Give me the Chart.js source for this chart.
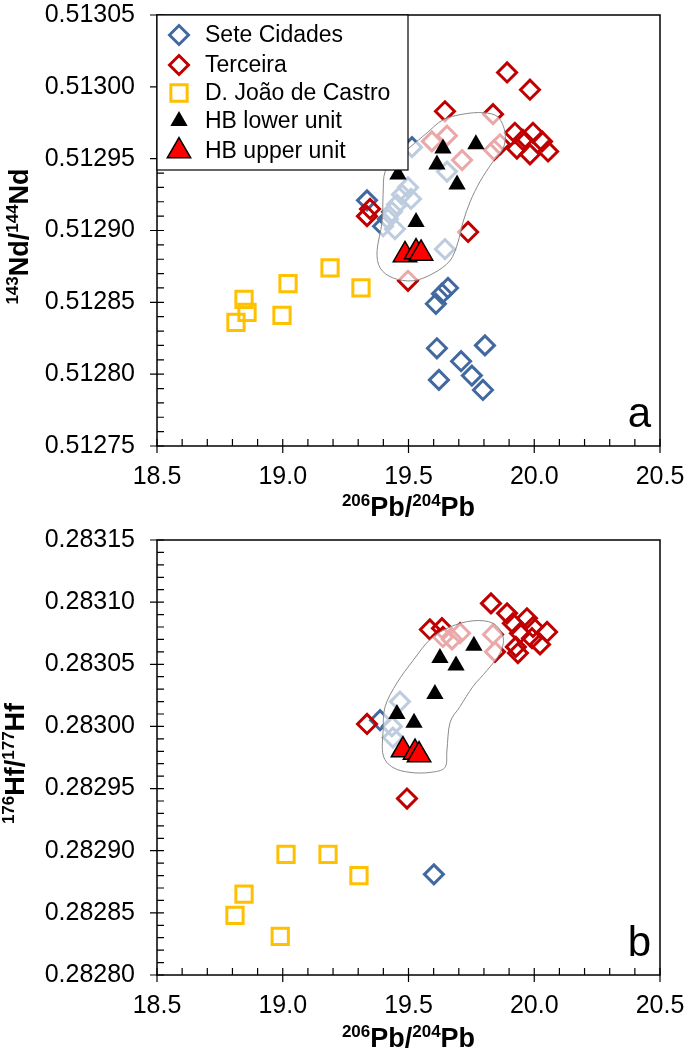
<!DOCTYPE html>
<html>
<head>
<meta charset="utf-8">
<script src="https://cdn.jsdelivr.net/npm/chart.js@4.4.1/dist/chart.umd.min.js"></script>
<style>
body { margin: 0; background: #fff; }
#box1 { position: absolute; left: 0; top: 0; width: 685px; height: 535px; }
#box2 { position: absolute; left: 0; top: 520px; width: 685px; height: 531px; }
</style>
</head>
<body>
<div id="box1"><canvas id="chartNd" width="685" height="535"></canvas></div>
<div id="box2"><canvas id="chartHf" width="685" height="531"></canvas></div>
<script>
// tick labels
const pbTicks = [18.5, 19.0, 19.5, 20.0, 20.5]
const ndTicks = [0.51275, 0.51280, 0.51285, 0.51290, 0.51295, 0.51300, 0.51305]
const hfTicks = [0.28280, 0.28285, 0.28290, 0.28295, 0.28300, 0.28305, 0.28310, 0.28315]

// panel a : 206Pb/204Pb vs 143Nd/144Nd
const seteNd = [[19.514,0.512958],[19.335,0.512921],[19.399,0.512903],[19.657,0.512860],[19.633,0.512856],[19.609,0.512849],
  [19.613,0.512818],[19.804,0.512820],[19.709,0.512809],[19.752,0.512799],[19.621,0.512796],[19.796,0.512789],
  [19.653,0.512941],[19.498,0.512930],[19.474,0.512925],[19.510,0.512922],[19.454,0.512918],[19.434,0.512913],
  [19.418,0.512908],[19.446,0.512901],[19.645,0.512887]]
const terceiraNd = [[19.892,0.513010],[19.983,0.512998],[19.645,0.512983],[19.836,0.512981],[19.923,0.512968],[19.995,0.512968],
  [19.955,0.512963],[20.031,0.512962],[19.931,0.512957],[19.983,0.512953],[20.055,0.512955],[19.347,0.512915],
  [19.335,0.512910],[19.737,0.512899],[19.498,0.512865],[19.593,0.512962],[19.653,0.512966],[19.713,0.512949],
  [19.840,0.512956],[19.864,0.512960]]
const djcNd = [[18.846,0.512852],[18.858,0.512843],[18.814,0.512836],[19.021,0.512863],[18.997,0.512841],[19.188,0.512874],[19.311,0.512860]]
const hbLowerNd = [[19.637,0.512957],[19.768,0.512960],[19.613,0.512946],[19.458,0.512939],[19.693,0.512932],[19.530,0.512906]]
const hbUpperNd = [[19.486,0.512883],[19.530,0.512885],[19.550,0.512884]]
const fieldNd = [[19.407,0.512941],[19.454,0.512950],[19.506,0.512958],[19.574,0.512968],[19.637,0.512977],[19.717,0.512981],
  [19.796,0.512982],[19.856,0.512979],[19.884,0.512968],[19.876,0.512957],[19.836,0.512948],[19.784,0.512934],
  [19.745,0.512920],[19.717,0.512906],[19.697,0.512892],[19.665,0.512879],[19.597,0.512870],[19.518,0.512865],
  [19.438,0.512867],[19.387,0.512874],[19.375,0.512886],[19.395,0.512906],[19.399,0.512925]]

// panel b : 206Pb/204Pb vs 176Hf/177Hf
const seteHf = [[19.601,0.282881],[19.387,0.283005],[19.466,0.283020],[19.434,0.283000],[19.438,0.282991]]
const terceiraHf = [[19.335,0.283002],[19.494,0.282942],[19.585,0.283078],[19.633,0.283079],[19.828,0.283099],[19.892,0.283091],
  [19.971,0.283087],[19.995,0.283080],[19.915,0.283083],[20.051,0.283076],[19.943,0.283075],[19.991,0.283071],
  [20.023,0.283066],[19.927,0.283064],[19.935,0.283059],[19.637,0.283072],[19.705,0.283075],[19.673,0.283070],
  [19.836,0.283074],[19.844,0.283060]]
const djcHf = [[19.013,0.282897],[19.180,0.282897],[19.303,0.282880],[18.846,0.282865],[18.810,0.282848],[18.990,0.282831]]
const hbLowerHf = [[19.625,0.283055],[19.760,0.283065],[19.689,0.283049],[19.605,0.283026],[19.454,0.283010],[19.522,0.283003]]
const hbUpperHf = [[19.478,0.282981],[19.526,0.282979],[19.542,0.282977]]
const fieldHf = [[19.407,0.283016],[19.454,0.283035],[19.518,0.283053],[19.586,0.283070],[19.665,0.283080],[19.756,0.283085],
  [19.836,0.283083],[19.876,0.283072],[19.864,0.283059],[19.812,0.283045],[19.756,0.283032],[19.705,0.283016],
  [19.665,0.283003],[19.653,0.282981],[19.645,0.282967],[19.586,0.282963],[19.506,0.282963],[19.438,0.282967],
  [19.399,0.282977],[19.399,0.282997]]

const FONT = "'Liberation Sans', Arial, sans-serif"
const BLUE = '#4169a0', DKRED = '#c00000', GOLD = '#ffc000'

// smooth closed curve through the field outline
function closedCurve(ctx, p) {
  const n = p.length
  ctx.moveTo(p[0][0], p[0][1])
  for (let i = 0; i < n; i++) {
    const p0 = p[(i - 1 + n) % n], p1 = p[i], p2 = p[(i + 1) % n], p3 = p[(i + 2) % n]
    ctx.bezierCurveTo(p1[0] + (p2[0] - p0[0]) / 6, p1[1] + (p2[1] - p0[1]) / 6,
      p2[0] - (p3[0] - p1[0]) / 6, p2[1] - (p3[1] - p1[1]) / 6, p2[0], p2[1])
  }
  ctx.closePath()
}

// text with superscript parts, e.g. 143Nd/144Nd
function supText(ctx, parts, cx, cy, rot) {
  const big = 'bold 27px ' + FONT, small = 'bold 17px ' + FONT
  let w = 0
  parts.forEach(p => { ctx.font = p.sup ? small : big; p.w = ctx.measureText(p.t).width; w += p.w })
  ctx.save()
  ctx.translate(cx, cy)
  ctx.rotate(rot)
  ctx.fillStyle = '#000'
  ctx.textBaseline = 'alphabetic'
  ctx.textAlign = 'left'
  let x = -w / 2
  parts.forEach(p => {
    ctx.font = p.sup ? small : big
    ctx.fillText(p.t, x, p.sup ? 0 : 10)
    x += p.w
  })
  ctx.restore()
}

const fieldPlugin = {
  id: 'field',
  beforeDatasetDraw(chart, args, opts) {
    if (chart.data.datasets[args.index].label !== 'HB lower unit') return
    const { ctx, scales: { x, y } } = chart
    const pts = opts.points.map(p => [x.getPixelForValue(p[0]), y.getPixelForValue(p[1])])
    ctx.save()
    ctx.beginPath()
    closedCurve(ctx, pts)
    ctx.fillStyle = 'rgba(255,255,255,0.66)'
    ctx.fill()
    ctx.strokeStyle = '#8a8a8a'
    ctx.lineWidth = 1
    ctx.stroke()
    ctx.restore()
  }
}

const framePlugin = {
  id: 'frame',
  afterDraw(chart, args, opts) {
    const { ctx, chartArea: a, scales: { x, y } } = chart
    ctx.save()
    ctx.strokeStyle = '#000'
    ctx.lineWidth = 1.5
    ctx.strokeRect(a.left, a.top, a.right - a.left, a.bottom - a.top)
    ctx.lineWidth = 1.2
    ctx.beginPath()
    const nx = Math.round((x.max - x.min) / 0.1)
    for (let i = 0; i <= nx; i++) {
      const px = x.getPixelForValue(x.min + i * 0.1)
      ctx.moveTo(px, a.bottom + (i % 5 === 0 ? 7 : 0))
      ctx.lineTo(px, a.bottom - 7)
    }
    const ny = Math.round((y.max - y.min) / 0.00001)
    for (let i = 0; i <= ny; i++) {
      const py = y.getPixelForValue(y.min + i * 0.00001)
      ctx.moveTo(a.left - (i % 5 === 0 ? 7 : 0), py)
      ctx.lineTo(a.left + 7, py)
    }
    ctx.stroke()

    // panel letter
    ctx.fillStyle = '#000'
    ctx.font = '42px ' + FONT
    ctx.textAlign = 'right'
    ctx.textBaseline = 'alphabetic'
    ctx.fillText(opts.letter, a.right - 9, a.bottom - 19)

    // axis titles
    supText(ctx, [{ t: '206', sup: true }, { t: 'Pb/' }, { t: '204', sup: true }, { t: 'Pb' }],
      (a.left + a.right) / 2, a.bottom + opts.xTitleGap, 0)
    supText(ctx, opts.yTitle, opts.yTitleX, (a.top + a.bottom) / 2 + 6, -Math.PI / 2)

    // legend box
    if (opts.legend) {
      ctx.fillStyle = '#fff'
      ctx.fillRect(a.left, a.top, 251, 155)
      ctx.strokeStyle = '#000'
      ctx.lineWidth = 1.2
      ctx.strokeRect(a.left, a.top, 251, 155)
      const rows = [20, 50, 78, 106, 136]
      chart.data.datasets.forEach((ds, i) => {
        const mx = a.left + 22, my = a.top + rows[i]
        ctx.fillStyle = ds.backgroundColor === 'transparent' ? 'rgba(0,0,0,0)' : ds.backgroundColor
        ctx.strokeStyle = ds.borderColor
        ctx.lineWidth = ds.borderWidth
        Chart.helpers.drawPoint(ctx, {
          pointStyle: ds.pointStyle, radius: ds.pointRadius, rotation: 0,
          borderWidth: ds.borderWidth
        }, mx, my)
        ctx.fillStyle = '#000'
        ctx.font = '23px ' + FONT
        ctx.textAlign = 'left'
        ctx.textBaseline = 'middle'
        ctx.fillText(ds.label, a.left + 48, my + 1)
      })
    }
    ctx.restore()
  }
}

function makeDatasets(sete, terceira, djc, lower, upper) {
  return [
    { label: 'Sete Cidades', data: sete, pointStyle: 'rectRot', pointRadius: 9.5, borderWidth: 3,
      borderColor: BLUE, backgroundColor: 'transparent', order: 4 },
    { label: 'Terceira', data: terceira, pointStyle: 'rectRot', pointRadius: 9.5, borderWidth: 3,
      borderColor: DKRED, backgroundColor: 'transparent', order: 3 },
    { label: 'D. João de Castro', data: djc, pointStyle: 'rect', pointRadius: 11.5, borderWidth: 3,
      borderColor: GOLD, backgroundColor: 'transparent', order: 3 },
    { label: 'HB lower unit', data: lower, pointStyle: 'triangle', pointRadius: 10, borderWidth: 0,
      borderColor: '#000', backgroundColor: '#000', order: 1 },
    { label: 'HB upper unit', data: upper, pointStyle: 'triangle', pointRadius: 13.5, borderWidth: 1.5,
      borderColor: '#000', backgroundColor: '#ff0000', order: 0 }
  ]
}

function makeChart(id, datasets, yTicks, padTop, xH, plug) {
  return new Chart(document.getElementById(id), {
    type: 'scatter',
    data: { datasets: datasets },
    options: {
      responsive: false,
      animation: false,
      layout: { padding: { top: padTop, right: 25, left: 0, bottom: 0 } },
      scales: {
        x: {
          type: 'linear', min: pbTicks[0], max: pbTicks[pbTicks.length - 1],
          afterBuildTicks: s => { s.ticks = pbTicks.map(v => ({ value: v })) },
          afterFit: s => { s.height = xH; s.paddingLeft = 0; s.paddingRight = 0 },
          grid: { drawOnChartArea: false, drawTicks: false },
          border: { display: false },
          ticks: { padding: 16, color: '#000', font: { size: 25, family: FONT }, callback: v => v.toFixed(1) }
        },
        y: {
          type: 'linear', min: yTicks[0], max: yTicks[yTicks.length - 1],
          afterBuildTicks: s => { s.ticks = yTicks.map(v => ({ value: v })) },
          afterFit: s => { s.width = 157; s.paddingTop = 0; s.paddingBottom = 0 },
          grid: { drawOnChartArea: false, drawTicks: false },
          border: { display: false },
          ticks: { padding: 22, color: '#000', font: { size: 25, family: FONT }, callback: v => v.toFixed(5) }
        }
      },
      plugins: {
        legend: { display: false },
        tooltip: { enabled: false },
        field: { points: plug.field },
        frame: plug
      }
    },
    plugins: [fieldPlugin, framePlugin]
  })
}

makeChart('chartNd', makeDatasets(seteNd, terceiraNd, djcNd, hbLowerNd, hbUpperNd), ndTicks, 12, 89, {
  field: fieldNd, letter: 'a', legend: true, xTitleGap: 60, yTitleX: 18,
  yTitle: [{ t: '143', sup: true }, { t: 'Nd/' }, { t: '144', sup: true }, { t: 'Nd' }]
})
makeChart('chartHf', makeDatasets(seteHf, terceiraHf, djcHf, hbLowerHf, hbUpperHf), hfTicks, 20, 76, {
  field: fieldHf, letter: 'b', legend: false, xTitleGap: 62, yTitleX: 14,
  yTitle: [{ t: '176', sup: true }, { t: 'Hf/' }, { t: '177', sup: true }, { t: 'Hf' }]
})
</script>
</body>
</html>
